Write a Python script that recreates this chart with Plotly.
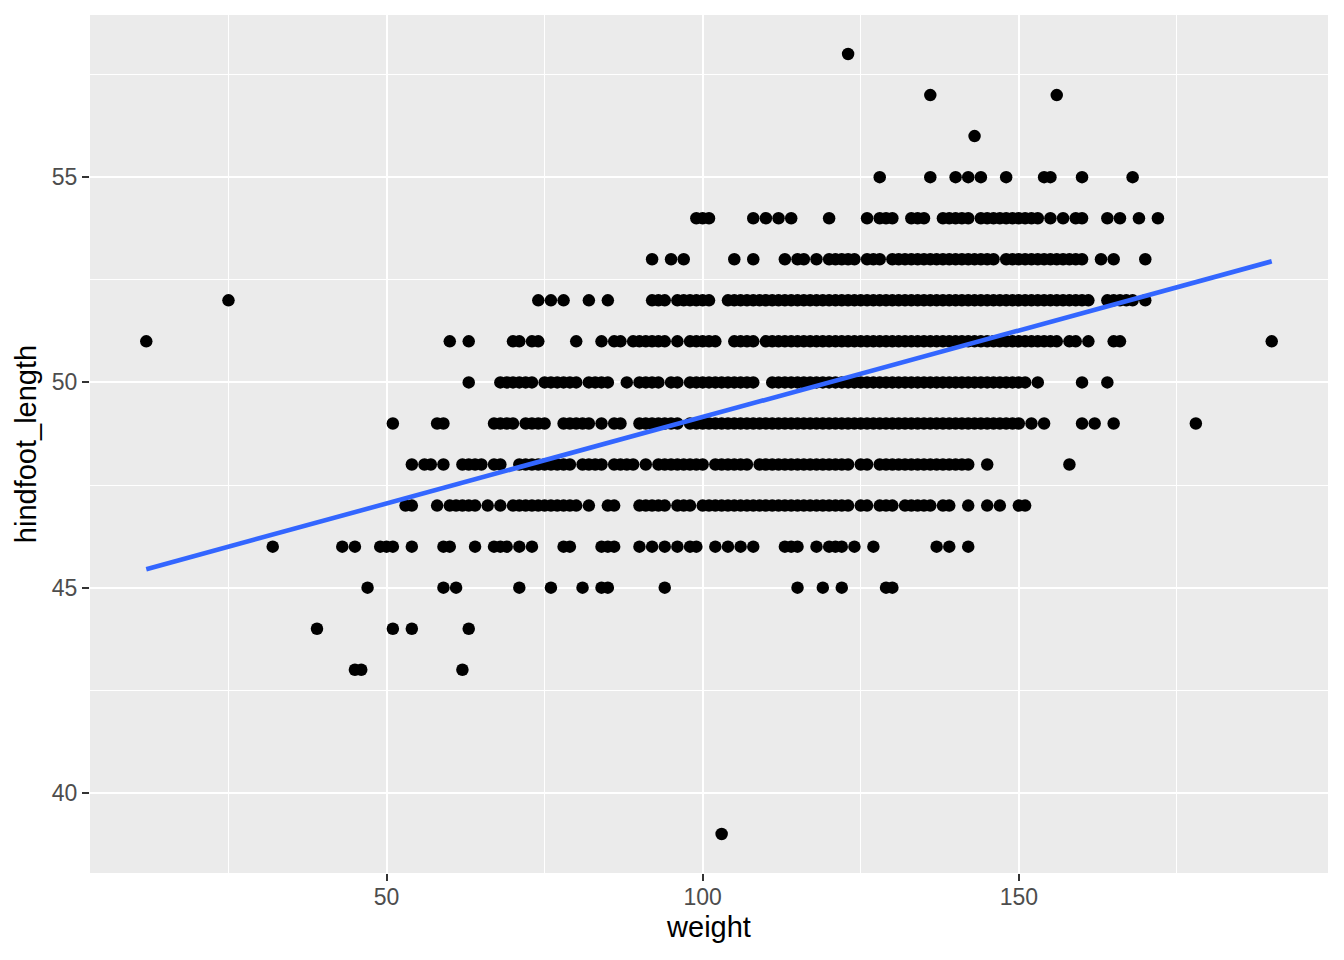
import plotly.graph_objects as go

# weights observed at each hindfoot_length level
w58 = [123]
w57 = [136, 156]
w56 = [143]
w55 = [128, 136, 140, 142, 144, 148, 154, 155, 160, 168]
w54 = [99, 100, 101, 108, 110, 112, 114, 120, 126, 128, 129, 130, 133, 134, 135,
       138, 139, 140, 141, 142, 144, 145, 146, 147, 148, 149, 150, 151, 152, 153,
       155, 157, 159, 160, 164, 166, 169, 172]
w53 = [92, 95, 97, 105, 108, 113, 115, 116, 118, 120, 121, 122, 123, 124, 126, 127,
       128, 130, 131, 132, 133, 134, 135, 136, 137, 138, 139, 140, 141, 142, 143,
       144, 145, 146, 148, 149, 150, 151, 152, 153, 154, 155, 156, 157, 158, 159,
       160, 163, 165, 170]
w52 = [25, 74, 76, 78, 82, 85, 92, 93, 94, 96, 97, 98, 99, 100, 101, 104, 105, 106,
       107, 108, 109, 110, 111, 112, 113, 114, 115, 116, 117, 118, 119, 120, 121,
       122, 123, 124, 125, 126, 127, 128, 129, 130, 131, 132, 133, 134, 135, 136,
       137, 138, 139, 140, 141, 142, 143, 144, 145, 146, 147, 148, 149, 150, 151,
       152, 153, 154, 155, 156, 157, 158, 159, 160, 161, 164, 165, 166, 167, 168, 170]
w51 = [12, 60, 63, 70, 71, 73, 74, 80, 84, 86, 87, 89, 90, 91, 92, 93, 94, 96, 98,
       99, 100, 101, 102, 105, 106, 107, 108, 110, 111, 112, 113, 114, 115, 116, 117,
       118, 119, 120, 121, 122, 123, 124, 125, 126, 127, 128, 129, 130, 131, 132,
       133, 134, 135, 136, 137, 138, 139, 140, 141, 142, 143, 144, 145, 146, 147,
       148, 149, 150, 151, 152, 153, 154, 155, 156, 158, 159, 161, 165, 166, 190]
w50 = [63, 68, 69, 70, 71, 72, 73, 75, 76, 77, 78, 79, 80, 82, 83, 84, 85, 88, 90,
       91, 92, 93, 95, 96, 98, 99, 100, 101, 102, 103, 104, 105, 106, 107, 108, 111,
       112, 113, 114, 115, 116, 117, 118, 119, 120, 121, 122, 123, 124, 125, 126,
       127, 128, 129, 130, 131, 132, 133, 134, 135, 136, 137, 138, 139, 140, 141,
       142, 143, 144, 145, 146, 147, 148, 149, 150, 151, 153, 160, 164]
w49 = [51, 58, 59, 67, 68, 69, 70, 72, 73, 74, 75, 78, 79, 80, 81, 82, 84, 86, 87,
       90, 91, 92, 93, 94, 95, 96, 98, 99, 100, 101, 102, 103, 104, 105, 106, 107,
       108, 109, 110, 111, 112, 113, 114, 115, 116, 117, 118, 119, 120, 121, 122,
       123, 124, 125, 126, 127, 128, 129, 130, 131, 132, 133, 134, 135, 136, 137,
       138, 139, 140, 141, 142, 143, 144, 145, 146, 147, 148, 149, 150, 152, 154,
       160, 162, 165, 178]
w48 = [54, 56, 57, 59, 62, 63, 64, 65, 67, 68, 71, 72, 73, 74, 75, 76, 77, 78, 79,
       81, 82, 83, 84, 86, 87, 88, 89, 91, 93, 94, 95, 96, 97, 98, 99, 100, 102, 103,
       104, 105, 106, 107, 109, 110, 111, 112, 113, 114, 115, 116, 117, 118, 119,
       120, 121, 122, 123, 125, 126, 128, 129, 130, 131, 132, 133, 134, 135, 136,
       137, 138, 139, 140, 141, 142, 145, 158]
w47 = [53, 54, 58, 60, 61, 62, 63, 64, 66, 68, 70, 71, 72, 73, 74, 75, 76, 77, 78,
       79, 80, 82, 85, 86, 90, 91, 92, 93, 94, 96, 97, 98, 100, 101, 102, 103, 104,
       105, 106, 107, 108, 109, 110, 111, 112, 113, 114, 115, 116, 117, 118, 119,
       120, 121, 122, 123, 125, 126, 128, 129, 130, 132, 133, 134, 135, 136, 138,
       139, 142, 145, 147, 150, 151]
w46 = [32, 43, 45, 49, 50, 51, 54, 59, 60, 64, 67, 68, 69, 71, 73, 78, 79, 84, 85,
       86, 90, 92, 94, 96, 98, 99, 102, 104, 106, 108, 113, 114, 115, 118, 120, 121,
       122, 124, 127, 137, 139, 142]
w45 = [47, 59, 61, 71, 76, 81, 84, 85, 94, 115, 119, 122, 129, 130]
w44 = [39, 51, 54, 63]
w43 = [45, 46, 62]
w39 = [103]

hf_levels = [58, 57, 56, 55, 54, 53, 52, 51, 50, 49, 48, 47, 46, 45, 44, 43, 39]
weight_rows = [w58, w57, w56, w55, w54, w53, w52, w51, w50, w49, w48, w47, w46,
               w45, w44, w43, w39]

# lm smooth line (ends at data range)
fit_x = [12, 190]
fit_y = [45.45, 52.95]

xs, ys = [], []
for hf, ws in zip(hf_levels, weight_rows):
    xs += ws
    ys += [hf] * len(ws)

fig = go.Figure()
fig.add_trace(go.Scatter(x=xs, y=ys, mode='markers',
                         marker=dict(color='black', size=12.5), showlegend=False))
fig.add_trace(go.Scatter(x=fit_x, y=fit_y, mode='lines',
                         line=dict(color='#3366FF', width=4.6), showlegend=False))

axis_common = dict(showgrid=True, gridcolor='white', gridwidth=2.2,
                   zeroline=False, showline=False, ticks='outside', ticklen=7,
                   tickwidth=2, tickcolor='#333333',
                   tickfont=dict(size=23, color='#4D4D4D'))

fig.update_layout(
    width=1344, height=960,
    margin=dict(l=82, r=24, t=7, b=95),
    paper_bgcolor='white', plot_bgcolor='#EBEBEB',
    font=dict(family='Liberation Sans, Arial, sans-serif'),
    xaxis=dict(range=[3.1, 198.9], tickvals=[50, 100, 150],
               minor=dict(tickvals=[25, 75, 125, 175], showgrid=True,
                          gridcolor='white', gridwidth=1.1, ticks=''),
               ticklabelstandoff=-4,
               title=dict(text='weight', font=dict(size=29, color='black'),
                          standoff=8),
               **axis_common),
    yaxis=dict(range=[38.05, 58.95], tickvals=[40, 45, 50, 55],
               minor=dict(tickvals=[42.5, 47.5, 52.5, 57.5], showgrid=True,
                          gridcolor='white', gridwidth=1.1, ticks=''),
               title=dict(text='hindfoot_length', font=dict(size=29, color='black'),
                          standoff=6),
               **axis_common),
)

fig.write_html("out.html")
